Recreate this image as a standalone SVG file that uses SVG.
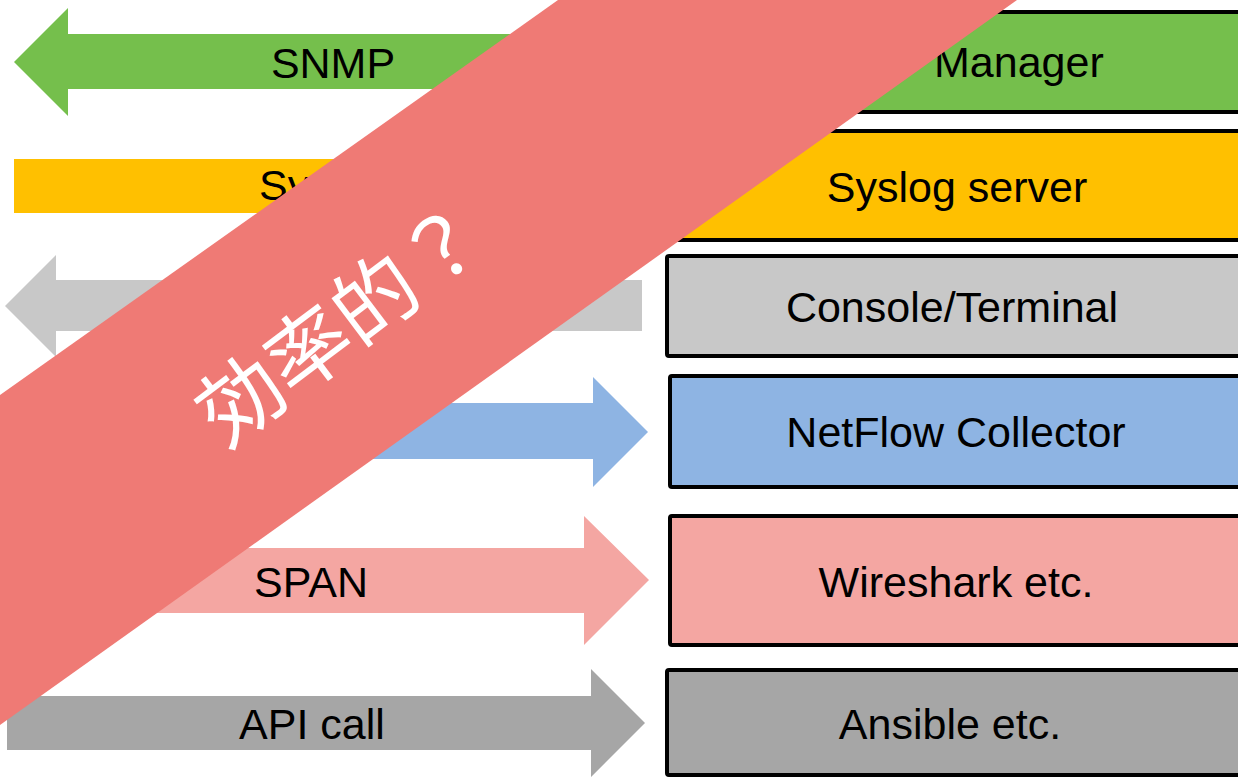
<svg xmlns="http://www.w3.org/2000/svg" width="1238" height="778" viewBox="0 0 1238 778">
<style>
.lbl{font-family:"Liberation Sans",Arial,sans-serif;font-size:43px;fill:#000}
.box{stroke:#000;stroke-width:4}
.green{fill:#75BF4C}.yellow{fill:#FFC000}.lgray{fill:#C8C8C8}.blue{fill:#8EB4E3}.pink{fill:#F4A6A2}.dgray{fill:#A6A6A6}
.ban{font-family:"Noto Sans CJK JP","Noto Sans CJK SC",sans-serif;font-size:84px;fill:#fff}
</style>
<rect width="1238" height="778" fill="#fff"/>
<g id="connectors">
  <g id="snmp-arrow">
    <polygon class="green" points="14,62 68,8 68,34 641,34 641,89 68,89 68,116"/>
    <text class="lbl" x="333" y="78" text-anchor="middle">SNMP</text>
  </g>
  <g id="syslog-bar">
    <rect class="yellow" x="14" y="159" width="627" height="54"/>
    <text class="lbl" x="259" y="200">Sy</text>
  </g>
  <g id="console-arrow">
    <polygon class="lgray" points="5,306 56,255 56,280 642,280 642,331 56,331 56,357"/>
  </g>
  <g id="netflow-arrow">
    <polygon class="blue" points="10,403 593,403 593,377 648,432 593,487 593,459 10,459"/>
  </g>
  <g id="span-arrow">
    <polygon class="pink" points="10,548 584,548 584,516 649,580 584,645 584,613 10,613"/>
    <text class="lbl" x="311" y="597" text-anchor="middle">SPAN</text>
  </g>
  <g id="api-arrow">
    <polygon class="dgray" points="7,696 591,696 591,669 645,723 591,777 591,750 7,750"/>
    <text class="lbl" x="312" y="739" text-anchor="middle">API call</text>
  </g>
</g>
<g id="node-manager">
  <rect class="box green" x="668" y="12" width="580" height="100" rx="2"/>
  <text class="lbl" x="934" y="77">Manager</text>
</g>
<g id="node-syslog">
  <rect class="box yellow" x="668" y="131" width="580" height="109" rx="2"/>
  <text class="lbl" x="957" y="202" text-anchor="middle">Syslog server</text>
</g>
<g id="node-console">
  <rect class="box lgray" x="667" y="256" width="580" height="100" rx="2"/>
  <text class="lbl" x="952" y="322" text-anchor="middle">Console/Terminal</text>
</g>
<g id="node-netflow">
  <rect class="box blue" x="670" y="376" width="580" height="111" rx="2"/>
  <text class="lbl" x="956" y="447" text-anchor="middle">NetFlow Collector</text>
</g>
<g id="node-wireshark">
  <rect class="box pink" x="670" y="516" width="580" height="129" rx="2"/>
  <text class="lbl" x="956" y="597" text-anchor="middle">Wireshark etc.</text>
</g>
<g id="node-ansible">
  <rect class="box dgray" x="667" y="670" width="580" height="105" rx="2"/>
  <text class="lbl" x="950" y="739" text-anchor="middle">Ansible etc.</text>
</g>
<g id="banner">
  <polygon fill="#EF7A75" points="0,395 558,0 1017,0 0,725"/>
  <text class="ban" transform="translate(338,319) rotate(-37)" text-anchor="middle" dominant-baseline="central">効率的？</text>
</g>
</svg>
